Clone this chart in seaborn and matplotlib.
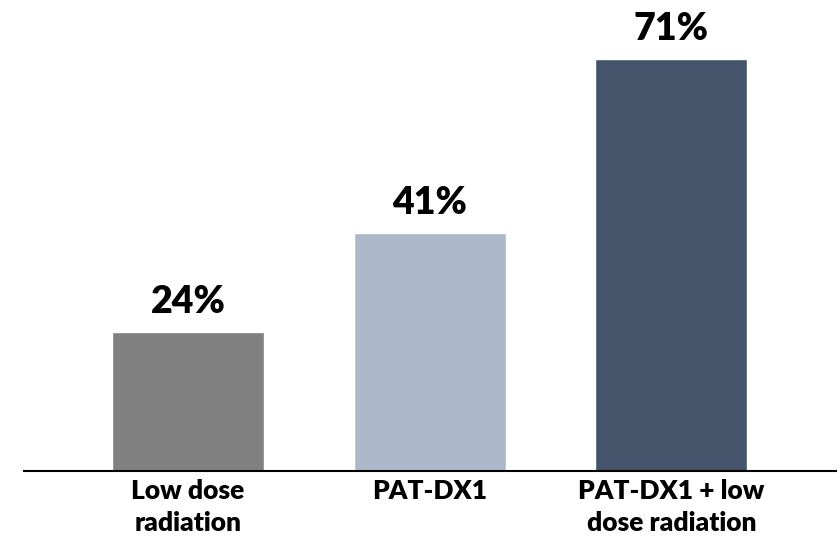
import matplotlib
matplotlib.use('Agg')
import matplotlib.pyplot as plt
import seaborn as sns
import pandas as pd

# data
categories = ['Low dose\nradiation', 'PAT-DX1', 'PAT-DX1 + low\ndose radiation']
values = [24, 41, 71]
bar_colors = ['#808080', '#adb9ca', '#44546a']

sns.set_theme(style='white')
plt.rcParams['font.family'] = ['Lato', 'DejaVu Sans']

df = pd.DataFrame({'group': categories, 'pct': values})

fig = plt.figure(figsize=(8.4, 5.39), dpi=100)
ax = fig.add_axes([0.0286, 0.126, 0.967, 0.874])

sns.barplot(data=df, x='group', y='pct', hue='group', palette=bar_colors,
            width=0.63, legend=False, ax=ax, saturation=1)

for i, v in enumerate(values):
    ax.text(i, v + 3.3, f'{v}%', ha='center', va='baseline',
            fontsize=27, fontweight='heavy', color='black')

ax.set_xlim(-0.679, 2.683)
ax.set_ylim(0, 81.2)
ax.set_xlabel('')
ax.set_ylabel('')
ax.set_yticks([])
ax.tick_params(axis='x', length=0, pad=6)
for lab in ax.get_xticklabels():
    lab.set_fontsize(19)
    lab.set_fontweight('heavy')
    lab.set_linespacing(1.4)
    lab.set_color('black')
for s in ['top', 'right', 'left']:
    ax.spines[s].set_visible(False)
ax.spines['bottom'].set_color('black')
ax.spines['bottom'].set_linewidth(1.5)

fig.savefig('out.png', dpi=100)
